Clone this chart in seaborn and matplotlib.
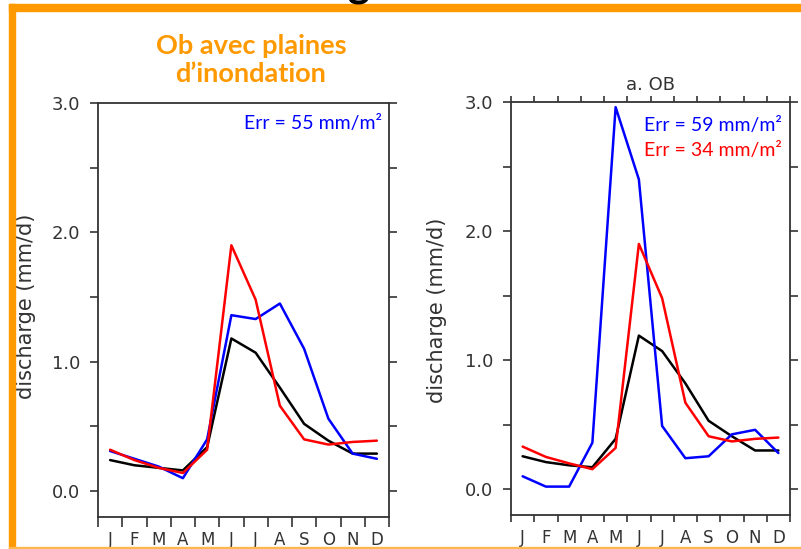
import matplotlib
matplotlib.use("Agg")
import matplotlib.pyplot as plt
from matplotlib.patches import Rectangle
import numpy as np
import pandas as pd
import seaborn as sns

months = ["J", "F", "M", "A", "M", "J", "J", "A", "S", "O", "N", "D"]

# Left panel: Ob avec plaines d'inondation
left_obs = [0.24, 0.20, 0.18, 0.16, 0.34, 1.18, 1.07, 0.80, 0.52, 0.39, 0.29, 0.29]
left_blue = [0.31, 0.25, 0.19, 0.10, 0.40, 1.36, 1.33, 1.45, 1.10, 0.56, 0.29, 0.25]
left_red = [0.32, 0.24, 0.18, 0.14, 0.32, 1.90, 1.48, 0.66, 0.40, 0.36, 0.38, 0.39]

# Right panel: a. OB
right_obs = [0.255, 0.21, 0.185, 0.17, 0.39, 1.19, 1.07, 0.82, 0.53, 0.41, 0.30, 0.30]
right_blue = [0.10, 0.02, 0.02, 0.36, 2.96, 2.40, 0.49, 0.24, 0.255, 0.425, 0.46, 0.28]
right_red = [0.33, 0.25, 0.20, 0.155, 0.32, 1.90, 1.48, 0.67, 0.41, 0.37, 0.39, 0.40]

yticks_major = [0.0, 1.0, 2.0, 3.0]
ytick_labels = ["0.0", "1.0", "2.0", "3.0"]
ylabel = "discharge (mm/d)"
left_title = "Ob avec plaines\nd\u2019inondation"
right_title = "a. OB"
left_err = ["Err = 55 mm/m\u00b2"]
right_err = ["Err = 59 mm/m\u00b2", "Err = 34 mm/m\u00b2"]

ORANGE = "#FF9900"
SPINE = "#333333"
GFONT = "DejaVu Sans"
BFONT = "Lato"


def make_df(obs, blue, red):
    n = len(obs)
    return pd.DataFrame({
        "month": list(range(1, n + 1)) * 3,
        "value": obs + blue + red,
        "series": ["obs"] * n + ["blue"] * n + ["red"] * n,
    })


palette = {"obs": "#000000", "blue": "#0000FF", "red": "#FF0000"}

sns.set_style("white")
plt.rcParams["font.family"] = [GFONT]

fig = plt.figure(figsize=(8.01, 5.49), dpi=100)


def style_axes(ax, top_ticks, xtick_len, xlabel_pad):
    ax.set_xlim(0.5, 12.5)
    ax.set_ylim(-0.2, 3.0)
    for s in ax.spines.values():
        s.set_visible(True)
        s.set_color(SPINE)
        s.set_linewidth(1.3)
    bounds = np.arange(0.5, 12.6, 1.0)
    ax.set_xticks(bounds)
    ax.set_xticklabels([])
    ax.set_xticks(np.arange(1, 13), minor=True)
    ax.set_xticklabels(months, minor=True, fontsize=12, color="#333333")
    ax.tick_params(axis="x", which="major", direction="out", length=xtick_len,
                   width=1.2, color=SPINE, bottom=True)
    ax.tick_params(axis="x", which="minor", length=0, pad=xlabel_pad)
    ax.set_yticks(np.arange(0, 3.01, 0.5))
    ax.set_yticklabels([ytick_labels[yticks_major.index(v)] if v in yticks_major else ""
                        for v in np.arange(0, 3.01, 0.5)], fontsize=13, color="#333333")
    ax.tick_params(axis="y", which="major", direction="out", length=6, width=1.2,
                   color=SPINE, left=True, right=True, pad=7)
    if top_ticks:
        sec = ax.secondary_xaxis("top")
        sec.set_xticks(bounds)
        sec.set_xticklabels([])
        sec.tick_params(direction="out", length=4, width=1.2, color=SPINE)
        sec.spines["top"].set_visible(False)
    ax.set_xlabel("")
    ax.set_ylabel(ylabel, fontsize=15, color="#333333")


# Left panel
axL = fig.add_axes([98 / 801, 1 - 517 / 549, 291 / 801, 414 / 549])
sns.lineplot(data=make_df(left_obs, left_blue, left_red), x="month", y="value",
             hue="series", palette=palette, ax=axL, legend=False, sort=False,
             estimator=None, linewidth=1.8)
style_axes(axL, top_ticks=False, xtick_len=7, xlabel_pad=10)
axL.yaxis.set_label_coords((26 - 98) / 291, (517 - 306) / 414)
axL.yaxis.label.set(va="center", ha="center")
fig.text(382 / 801, 1 - 123 / 549, left_err[0], fontsize=14, color="#0000FF",
         family=BFONT, ha="right", va="center")

# Right panel
axR = fig.add_axes([511 / 801, 1 - 515 / 549, 279 / 801, 413 / 549])
sns.lineplot(data=make_df(right_obs, right_blue, right_red), x="month", y="value",
             hue="series", palette=palette, ax=axR, legend=False, sort=False,
             estimator=None, linewidth=1.8)
style_axes(axR, top_ticks=True, xtick_len=5, xlabel_pad=10)
axR.yaxis.set_label_coords((437 - 511) / 279, (515 - 310) / 413)
axR.yaxis.label.set(va="center", ha="center")
axR.set_title(right_title, fontsize=13, color="#333333", pad=9)

for i, (txt, col) in enumerate(zip(right_err, ["#0000FF", "#FF0000"])):
    fig.text(782 / 801, 1 - (125 + 25 * i) / 549, txt, fontsize=14, color=col,
             family=BFONT, ha="right", va="center")

# Left title
fig.text(251 / 801, 1 - 60 / 549, left_title, fontsize=19.5, color=ORANGE,
         family=BFONT, fontweight="bold", ha="center", va="center",
         linespacing=1.2)

# Slide frame decorations
fig.patches.append(Rectangle((9 / 801, 0), 6 / 801, 1 - 4 / 549,
                             transform=fig.transFigure, color=ORANGE, zorder=0))
fig.patches.append(Rectangle((9 / 801, 1 - 11 / 549), 1 - 9 / 801, 7 / 549,
                             transform=fig.transFigure, color=ORANGE, zorder=0))
fig.patches.append(Rectangle((9 / 801, 0), 1 - 9 / 801, 2 / 549,
                             transform=fig.transFigure, color="#FFB84D", zorder=0))
fig.text(359 / 801, 1 + 4 / 549, "g", fontsize=30, fontweight="bold",
         family=BFONT, color="black", ha="center", va="baseline")

fig.savefig("out.png", dpi=100)
